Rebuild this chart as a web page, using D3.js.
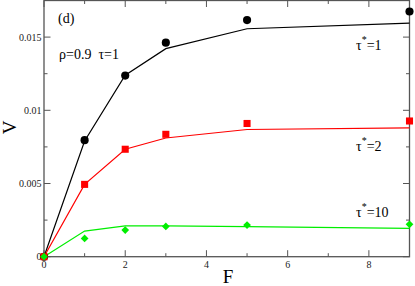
<!DOCTYPE html>
<html><head><meta charset="utf-8">
<script src="https://cdn.jsdelivr.net/npm/d3@7"></script>
<style>body{margin:0;background:#fff}svg{display:block}</style>
</head><body><svg id="c" width="415" height="286" font-family="'Liberation Serif', 'Times New Roman', 'DejaVu Serif', serif"></svg>
<script>
const xPoints = [0, 1, 2, 3, 5, 9];
const tau1Points = [0, 0.00796, 0.01237, 0.01462, 0.01616, 0.01675];
const tau1Line   = [0, 0.0079, 0.0124, 0.01421, 0.01557, 0.01595];
const tau2Points = [0, 0.00494, 0.00734, 0.00836, 0.0091, 0.00927];
const tau2Line   = [0, 0.00494, 0.00734, 0.00811, 0.00869, 0.0088];
const tau10Points = [0, 0.00125, 0.00182, 0.00207, 0.00216, 0.00221];
const tau10Line   = [0, 0.00175, 0.00211, 0.00211, 0.00205, 0.00194];
const xTicks = [0, 2, 4, 6, 8];
const xMinor = [1, 3, 5, 7, 9];
const yTicks = [0, 0.005, 0.01, 0.015];
const yTickLabels = ["0", "0.005", "0.01", "0.015"];
const yMinor = [0.0025, 0.0075, 0.0125];

const svg = d3.select("#c");
const L = 44, R = 409.5, T = 0.5, B = 256.7;
const x = d3.scaleLinear().domain([0, 9]).range([L, R]);
const y = d3.scaleLinear().domain([0, 0.0175]).range([B, T]);

const axCol = "#555";
const g = svg.append("g");
g.append("rect").attr("x", L).attr("y", T).attr("width", R - L).attr("height", B - T)
  .attr("fill", "none").attr("stroke", axCol).attr("stroke-width", 1.3);

function ticks(vals, len) {
  vals.forEach(v => {
    g.append("line").attr("x1", x(v)).attr("x2", x(v)).attr("y1", B).attr("y2", B - len).attr("stroke", axCol);
    g.append("line").attr("x1", x(v)).attr("x2", x(v)).attr("y1", T).attr("y2", T + len).attr("stroke", axCol);
  });
}
function yticks(vals, len) {
  vals.forEach(v => {
    g.append("line").attr("x1", L).attr("x2", L + len).attr("y1", y(v)).attr("y2", y(v)).attr("stroke", axCol);
    g.append("line").attr("x1", R).attr("x2", R - len).attr("y1", y(v)).attr("y2", y(v)).attr("stroke", axCol);
  });
}
ticks(xTicks, 6.5); ticks(xMinor, 3.5);
yticks(yTicks, 6.5); yticks(yMinor, 3.5);

xTicks.forEach(v => g.append("text").attr("x", x(v)).attr("y", 267.5).attr("text-anchor", "middle")
  .attr("font-size", 10).attr("fill", "#222").text(v));
yTicks.forEach((v, i) => g.append("text").attr("x", 41.5).attr("y", y(v) + 3.5).attr("text-anchor", "end")
  .attr("font-size", 10).attr("fill", "#222").text(yTickLabels[i]));

svg.append("text").attr("x", 228).attr("y", 283).attr("text-anchor", "middle").attr("font-size", 19).text("F");
svg.append("text").attr("transform", "translate(15.5,127.5) rotate(-90)").attr("text-anchor", "middle").attr("font-size", 19).text("V");

const line = d3.line().x(d => x(d[0])).y(d => y(d[1]));
const series = [
  {pts: tau1Points, ln: tau1Line, col: "#000000", sym: d3.symbolCircle, size: 52, rot: 0},
  {pts: tau2Points, ln: tau2Line, col: "#ff0000", sym: d3.symbolSquare, size: 50, rot: 0},
  {pts: tau10Points, ln: tau10Line, col: "#00ee00", sym: d3.symbolSquare, size: 30, rot: 45},
];
series.forEach(s => {
  svg.append("path").datum(xPoints.map((xv, i) => [xv, s.ln[i]])).attr("d", line)
    .attr("fill", "none").attr("stroke", s.col).attr("stroke-width", 1.2);
});
series.forEach(s => {
  svg.selectAll(null).data(xPoints.map((xv, i) => [xv, s.pts[i]])).enter().append("path")
    .attr("transform", d => `translate(${x(d[0])},${y(d[1])}) rotate(${s.rot})`)
    .attr("d", d3.symbol().type(s.sym).size(s.size)).attr("fill", s.col);
});

svg.append("text").attr("x", 58).attr("y", 22.5).attr("font-size", 14).text("(d)");
svg.append("text").attr("x", 59).attr("y", 59).attr("font-size", 14).attr("xml:space", "preserve").text("ρ=0.9  τ=1");
function tauLabel(xp, yp, val) {
  const t = svg.append("text").attr("x", xp).attr("y", yp).attr("font-size", 14);
  t.append("tspan").text("τ");
  t.append("tspan").attr("dy", -7).attr("font-size", 10).text("*");
  t.append("tspan").attr("dy", 7).text("=" + val);
}
tauLabel(356, 50, "1");
tauLabel(356, 150.5, "2");
tauLabel(356, 216.5, "10");
</script></body></html>
